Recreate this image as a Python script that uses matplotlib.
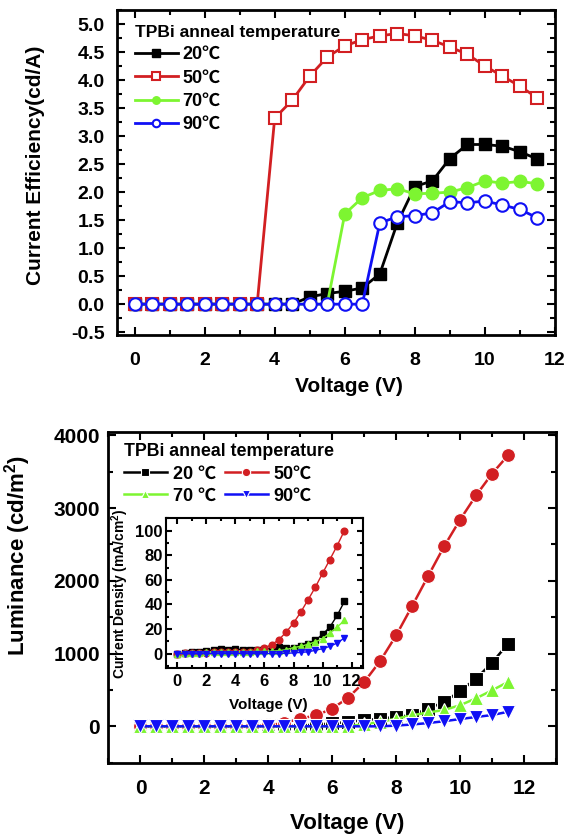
import numpy as np
import matplotlib
matplotlib.use("Agg")
import matplotlib.pyplot as plt
from matplotlib.ticker import MultipleLocator

plt.rcParams["font.family"] = ["Liberation Sans", "Noto Sans CJK SC", "DejaVu Sans"]
plt.rcParams["mathtext.fontset"] = "custom"
plt.rcParams["mathtext.rm"] = "Liberation Sans:bold"

# ---- data ----
voltage = np.arange(0, 12.0, 0.5)  # 0 ... 11.5 V

# current efficiency (cd/A)
ce_20 = [0, 0, 0, 0, 0, 0, 0, 0, 0, 0, 0.13, 0.19, 0.23, 0.29, 0.54, 1.45,
         2.10, 2.20, 2.60, 2.85, 2.85, 2.82, 2.72, 2.59]
ce_50 = [0, 0, 0, 0, 0, 0, 0, 0, 3.32, 3.64, 4.07, 4.41, 4.61, 4.72, 4.79, 4.83,
         4.79, 4.71, 4.59, 4.46, 4.25, 4.07, 3.89, 3.68]
ce_70 = [0, 0, 0, 0, 0, 0, 0, 0, 0, 0, 0, 0, 1.61, 1.90, 2.03, 2.06,
         1.97, 1.98, 2.00, 2.08, 2.20, 2.16, 2.19, 2.15]
ce_90 = [0, 0, 0, 0, 0, 0, 0, 0, 0, 0, 0, 0, 0, 0, 1.45, 1.56,
         1.58, 1.63, 1.83, 1.81, 1.84, 1.77, 1.69, 1.54]

# luminance (cd/m2)
lum_20 = [0, 0, 0, 0, 0, 0, 0, 0, 0, 0, 10, 25, 40, 60, 85, 105,
          130, 155, 243, 334, 486, 655, 875, 1136]
lum_50 = [0, 0, 0, 0, 0, 0, 0, 0, 15, 46, 106, 151, 243, 394, 609, 898,
          1251, 1654, 2066, 2474, 2841, 3175, 3473, 3725]
lum_70 = [0, 0, 0, 0, 0, 0, 0, 0, 0, 0, 0, 0, 0, 0, 30, 60,
          105, 151, 190, 225, 290, 385, 495, 610]
lum_90 = [0, 0, 0, 0, 0, 0, 0, 0, 0, 0, 0, 0, 0, 0, 0, 0,
          10, 25, 45, 70, 100, 128, 155, 200]

# current density (mA/cm2), inset
j_20 = [0, 0.5, 1.0, 1.5, 2.2, 3.2, 4.0, 3.2, 4.0, 3.0, 3.0, 3.2, 3.5, 4.5, 5.4, 4.6,
        4.9, 5.9, 7.6, 10.8, 15.7, 21.6, 31.0, 42.4]
j_50 = [0, 0.2, 0.4, 0.6, 0.8, 1.0, 1.1, 1.2, 1.3, 1.4, 1.6, 2.7, 4.6, 7.3, 11.4, 17.6,
        24.9, 33.8, 43.8, 54.0, 65.4, 76.5, 87.8, 100.0]
j_70 = [0, 0.3, 0.5, 0.8, 1.0, 1.2, 1.3, 1.4, 1.5, 1.5, 1.6, 1.7, 1.8, 2.0, 2.4, 3.2,
        4.9, 5.9, 7.6, 9.5, 12.2, 16.8, 21.6, 27.0]
j_90 = [0, 0, 0, 0, 0, 0, 0, 0, 0, 0, 0, 0, 0, 0, 0, 0.3,
        0.5, 1.0, 1.4, 2.7, 4.0, 5.9, 8.6, 12.7]

labels_top = ["20℃", "50℃", "70℃", "90℃"]
labels_bot = ["20 ℃", "50℃", "70 ℃", "90℃"]
legend_title = "TPBi anneal temperature"

black, red, green, blue = "#000000", "#d21f22", "#7df531", "#1010f5"


def style_axes(ax, size, major_len=6, minor_len=3.5, spine_w=2.0, pad=6):
    for s in ax.spines.values():
        s.set_linewidth(spine_w)
    ax.tick_params(which="both", direction="in", top=True, right=True, width=1.5)
    ax.tick_params(which="major", length=major_len, labelsize=size, pad=pad)
    ax.tick_params(which="minor", length=minor_len)
    for lab in ax.get_xticklabels() + ax.get_yticklabels():
        lab.set_fontweight("bold")


fig = plt.figure(figsize=(5.68, 8.35), dpi=100)

# ---- top: current efficiency ----
ax1 = fig.add_axes([0.2060, 0.5988, 0.7711, 0.3892])
ms = 9
ax1.plot(voltage, ce_20, "-s", color=black, lw=2, ms=ms, label=labels_top[0])
ax1.plot(voltage, ce_50, "-s", color=red, lw=2, ms=ms, mfc="white", mew=1.5, label=labels_top[1])
ax1.plot(voltage, ce_70, "-o", color=green, lw=2, ms=ms, label=labels_top[2])
ax1.plot(voltage, ce_90, "-o", color=blue, lw=2, ms=ms, mfc="white", mew=1.5, label=labels_top[3])
ax1.set_xlim(-0.5, 12)
ax1.set_ylim(-0.55, 5.25)
ax1.xaxis.set_major_locator(MultipleLocator(2))
ax1.xaxis.set_minor_locator(MultipleLocator(1))
ax1.yaxis.set_major_locator(MultipleLocator(0.5))
ax1.yaxis.set_minor_locator(MultipleLocator(0.25))
ax1.yaxis.set_major_formatter(plt.FormatStrFormatter("%.1f"))
style_axes(ax1, 14, pad=9)
ax1.tick_params(axis="x", pad=12)
ax1.set_xlabel("Voltage (V)", fontsize=15, fontweight="bold")
ax1.set_ylabel("Current Efficiency(cd/A)", fontsize=15, fontweight="bold")
ax1.xaxis.set_label_coords(0.529, -0.128)
ax1.yaxis.set_label_coords(-0.164, 0.523)
ax1.legend(loc="upper left", bbox_to_anchor=(0.02, 0.982), frameon=False,
           title=legend_title, alignment="left", borderpad=0,
           handlelength=2.4, handletextpad=0.25, labelspacing=0.35,
           markerscale=0.6, prop={"size": 13, "weight": "bold"},
           title_fontproperties={"size": 12.5, "weight": "bold"})

# ---- bottom: luminance ----
ax2 = fig.add_axes([0.1910, 0.0866, 0.7879, 0.3964])
mb = 10
kw = dict(lw=1.8, ms=mb, mec="white", mew=0.8)
l20, = ax2.plot(voltage, lum_20, "-s", color=black, label=labels_bot[0], **kw)
l50, = ax2.plot(voltage, lum_50, "-o", color=red, label=labels_bot[1], **kw)
l70, = ax2.plot(voltage, lum_70, "-^", color=green, label=labels_bot[2], **kw)
l90, = ax2.plot(voltage, lum_90, "-v", color=blue, label=labels_bot[3], **kw)
ax2.set_xlim(-1, 13)
ax2.set_ylim(-500, 4050)
ax2.xaxis.set_major_locator(MultipleLocator(2))
ax2.xaxis.set_minor_locator(MultipleLocator(1))
ax2.yaxis.set_major_locator(MultipleLocator(1000))
ax2.yaxis.set_minor_locator(MultipleLocator(500))
style_axes(ax2, 15, pad=6)
ax2.tick_params(axis="x", pad=12)
ax2.set_xlabel("Voltage (V)", fontsize=16, fontweight="bold")
ax2.set_ylabel("Luminance (cd/m$\\mathregular{^2}$)", fontsize=16, fontweight="bold")
ax2.xaxis.set_label_coords(0.533, -0.151)
ax2.yaxis.set_label_coords(-0.168, 0.627)
# legend filled column-wise: 20 / 70 in first column, 50 / 90 in second
ax2.legend(handles=[l20, l70, l50, l90], loc="upper left", bbox_to_anchor=(0.014, 0.992),
           frameon=False, ncol=2, title=legend_title, alignment="left", borderpad=0,
           handlelength=2.4, handletextpad=0.3, labelspacing=0.28,
           columnspacing=0.5, markerscale=0.6,
           prop={"size": 13, "weight": "bold"},
           title_fontproperties={"size": 12.8, "weight": "bold"})

# ---- inset: current density ----
ax3 = fig.add_axes([0.2917, 0.1996, 0.3479, 0.1796])
ki = dict(lw=1.0, ms=4.8)
ax3.plot(voltage, j_20, "-s", color=black, **ki)
ax3.plot(voltage, j_50, "-o", color=red, **ki)
ax3.plot(voltage, j_70, "-^", color=green, **ki)
ax3.plot(voltage, j_90, "-v", color=blue, **ki)
ax3.set_xlim(-0.8, 12.8)
ax3.set_ylim(-12, 110)
ax3.xaxis.set_major_locator(MultipleLocator(2))
ax3.xaxis.set_minor_locator(MultipleLocator(1))
ax3.yaxis.set_major_locator(MultipleLocator(20))
ax3.yaxis.set_minor_locator(MultipleLocator(10))
style_axes(ax3, 12, major_len=4, minor_len=2.5, spine_w=1.5, pad=2)
ax3.tick_params(axis="x", pad=4)
ax3.set_xlabel("Voltage (V)", fontsize=11, fontweight="bold")
ax3.set_ylabel("Current Density (mA/cm$\\mathregular{^2}$)", fontsize=10, fontweight="bold")
ax3.xaxis.set_label_coords(0.519, -0.2)
ax3.yaxis.set_label_coords(-0.178, 0.495)

fig.savefig("out.png", dpi=100)
